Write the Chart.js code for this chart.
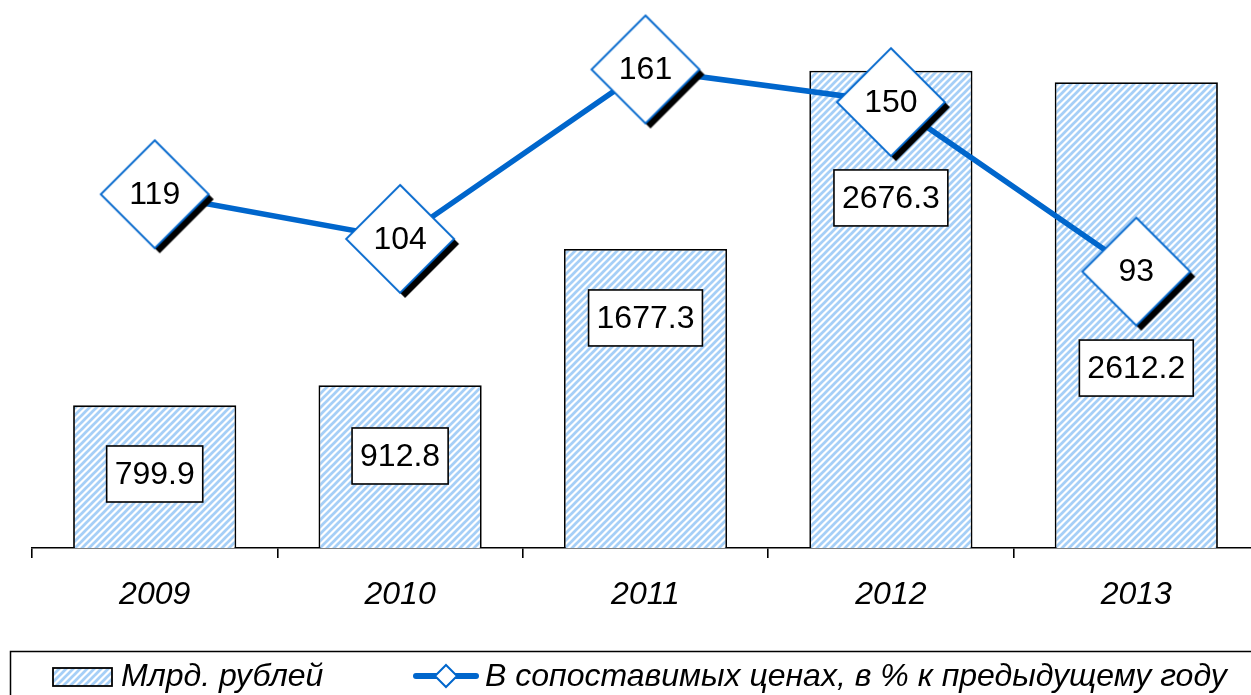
<!DOCTYPE html>
<html>
<head>
<meta charset="utf-8">
<script src="https://cdn.jsdelivr.net/npm/chart.js@4"></script>
<style>
  html, body { margin: 0; padding: 0; background: #fff; overflow: hidden; }
</style>
</head>
<body>
<canvas id="chart" width="1260" height="695"></canvas>
<script>
const years = ['2009', '2010', '2011', '2012', '2013'];
const billions = [799.9, 912.8, 1677.3, 2676.3, 2612.2];
const pctPrevYear = [119, 104, 161, 150, 93];
const barLabelAt = [415, 516, 1290, 1963, 1009];

const FONT = "'Liberation Sans', Arial, sans-serif";
const BLUE = '#0066cc';

// hatched fill
function makeHatch() {
    const t = 7;
    const c = document.createElement('canvas');
    c.width = t; c.height = t;
    const g = c.getContext('2d');
    g.fillStyle = '#ffffff';
    g.fillRect(0, 0, t, t);
    g.strokeStyle = '#a6cff7';
    g.lineWidth = 2.7;
    for (let k = -t; k <= 2 * t; k += t) {
        g.beginPath();
        g.moveTo(k - 1, t + 1);
        g.lineTo(k + t + 1, -1);
        g.stroke();
    }
    return g.createPattern(c, 'repeat');
}
const ctx = document.getElementById('chart').getContext('2d');
const hatch = makeHatch();

// diamond marker with black shadow
function makeDiamond(r, shadow) {
    const pad = 7;
    const s = 2 * (r + pad);
    const c = document.createElement('canvas');
    c.width = s; c.height = s;
    const g = c.getContext('2d');
    const m = s / 2;
    const path = (dx, dy) => {
        g.beginPath();
        g.moveTo(m + dx, m - r + dy);
        g.lineTo(m + r + dx, m + dy);
        g.lineTo(m + dx, m + r + dy);
        g.lineTo(m - r + dx, m + dy);
        g.closePath();
    };
    if (shadow) {
        g.fillStyle = '#000';
        path(5, 5);
        g.fill();
    }
    g.fillStyle = '#fff';
    path(0, 0);
    g.fill();
    g.strokeStyle = BLUE;
    g.lineWidth = 1.8;
    g.stroke();
    return c;
}
const diamond = makeDiamond(54, true);

const labelsPlugin = {
    id: 'labels',
    afterDatasetDraw(chart, args) {
        const c = chart.ctx;
        const meta = args.meta;
        c.save();
        c.font = '32px ' + FONT;
        c.textAlign = 'center';
        c.textBaseline = 'middle';
        if (meta.type === 'bar') {
            const y = chart.scales.y;
            meta.data.forEach((bar, i) => {
                const txt = billions[i].toFixed(1);
                const w = c.measureText(txt).width + 16;
                const h = 56;
                const cy = y.getPixelForValue(barLabelAt[i]);
                c.fillStyle = '#fff';
                c.fillRect(bar.x - w / 2, cy - h / 2, w, h);
                c.strokeStyle = '#000';
                c.lineWidth = 1.6;
                c.strokeRect(bar.x - w / 2, cy - h / 2, w, h);
                c.fillStyle = '#000';
                c.fillText(txt, bar.x, cy + 1);
            });
        } else {
            meta.data.forEach((pt, i) => {
                c.fillStyle = '#000';
                c.fillText(String(pctPrevYear[i]), pt.x, pt.y + 1);
            });
        }
        c.restore();
    }
};

const legendPlugin = {
    id: 'boxLegend',
    afterDraw(chart) {
        const c = chart.ctx;
        c.save();
        c.strokeStyle = '#000';
        c.lineWidth = 1.5;
        c.strokeRect(10.5, 651.5, 1300, 80);
        // bar swatch
        c.fillStyle = hatch;
        c.fillRect(53, 668, 59, 18);
        c.lineWidth = 1.8;
        c.strokeRect(53, 668, 59, 18);
        // line swatch
        c.strokeStyle = BLUE;
        c.lineWidth = 6;
        c.lineCap = 'round';
        c.beginPath();
        c.moveTo(416, 676);
        c.lineTo(476, 676);
        c.stroke();
        c.fillStyle = '#fff';
        c.lineWidth = 2;
        c.beginPath();
        c.moveTo(446, 665); c.lineTo(457, 676); c.lineTo(446, 687); c.lineTo(435, 676);
        c.closePath();
        c.fill();
        c.stroke();
        c.fillStyle = '#000';
        c.font = 'italic 32px ' + FONT;
        c.textBaseline = 'middle';
        c.textAlign = 'left';
        c.fillText('Млрд. рублей', 121, 677);
        c.fillText('В сопоставимых ценах, в % к предыдущему году', 485, 677);
        c.restore();
    }
};

new Chart(ctx, {
    data: {
        labels: years,
        datasets: [
            {
                type: 'line',
                label: 'В сопоставимых ценах, в % к предыдущему году',
                data: pctPrevYear,
                yAxisID: 'y2',
                borderColor: BLUE,
                borderWidth: 5.5,
                pointStyle: diamond,
                pointRadius: 54,
                pointHoverRadius: 54,
                tension: 0,
                clip: false,
                order: 0
            },
            {
                type: 'bar',
                label: 'Млрд. рублей',
                data: billions,
                yAxisID: 'y',
                backgroundColor: hatch,
                borderColor: '#000',
                borderWidth: 1.8,
                borderSkipped: 'bottom',
                barPercentage: 0.665,
                categoryPercentage: 1,
                order: 1
            }
        ]
    },
    options: {
        responsive: false,
        animation: false,
        layout: { autoPadding: false, padding: { left: 32, right: 1, top: 13, bottom: 0 } },
        plugins: {
            legend: { display: false },
            tooltip: { enabled: false }
        },
        scales: {
            x: {
                offset: true,
                grid: {
                    display: true,
                    drawOnChartArea: false,
                    color: '#000',
                    lineWidth: 1.6,
                    tickLength: 10
                },
                border: { display: true, color: '#000', width: 1.6 },
                ticks: {
                    color: '#000',
                    padding: 18,
                    font: { family: FONT, size: 32, style: 'italic' }
                },
                afterFit: s => { s.height = 147; }
            },
            y: { display: false, min: 0, max: 3000 },
            y2: { display: false, min: 0, max: 180, position: 'right' }
        }
    },
    plugins: [labelsPlugin, legendPlugin]
});
</script>
</body>
</html>
